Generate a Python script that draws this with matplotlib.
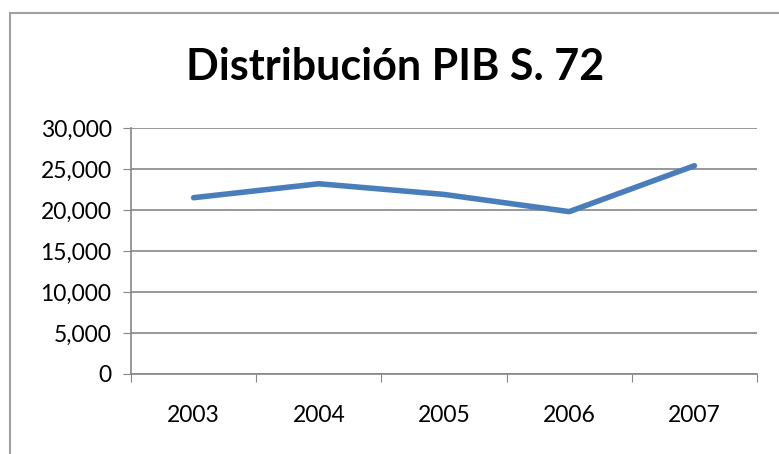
import matplotlib.pyplot as plt
from matplotlib.patches import Rectangle
from matplotlib.ticker import FuncFormatter

years = ["2003", "2004", "2005", "2006", "2007"]
pib = [21500, 23200, 21900, 19800, 25400]

plt.rcParams['font.family'] = ['Lato', 'DejaVu Sans']

fig = plt.figure(figsize=(7.79, 4.54), dpi=100)
fig.patches.append(Rectangle((10 / 779, -0.1), 1.0, 1 - 13 / 454 + 0.1,
                             transform=fig.transFigure, fill=False,
                             edgecolor="#a0a0a0", linewidth=1.5))

ax = fig.add_axes([131 / 779, 1 - 374 / 454, (757 - 131) / 779, (374 - 128) / 454])

x = list(range(1, len(years) + 1))
ax.plot(x, pib, color="#4a7ebb", linewidth=4, solid_capstyle="round")

ax.set_ylim(0, 30000)
ax.set_yticks(range(0, 30001, 5000))
ax.yaxis.set_major_formatter(FuncFormatter(lambda v, p: f"{int(v):,}"))
ax.set_xlim(0.5, len(years) + 0.5)
ax.set_xticks([i + 0.5 for i in range(len(years) + 1)])
ax.set_xticklabels([])
ax.set_xticks(x, minor=True)
ax.set_xticklabels(years, minor=True)

ax.grid(axis="y", color="#868686", linewidth=1.2)
ax.set_axisbelow(True)
for s in ["top", "right"]:
    ax.spines[s].set_visible(False)
for s in ["left", "bottom"]:
    ax.spines[s].set_color("#868686")
    ax.spines[s].set_linewidth(1.2)

ax.tick_params(axis="y", which="major", length=6, color="#868686", labelsize=16.5, pad=8)
ax.tick_params(axis="x", which="major", length=6, color="#868686")
ax.tick_params(axis="x", which="minor", length=0, labelsize=16.5, pad=22)

fig.text(395 / 779, 1 - 67 / 454, "Distribución PIB S. 72", ha="center", va="center",
         fontsize=31, fontweight="bold")

fig.savefig("out.png", dpi=100)
